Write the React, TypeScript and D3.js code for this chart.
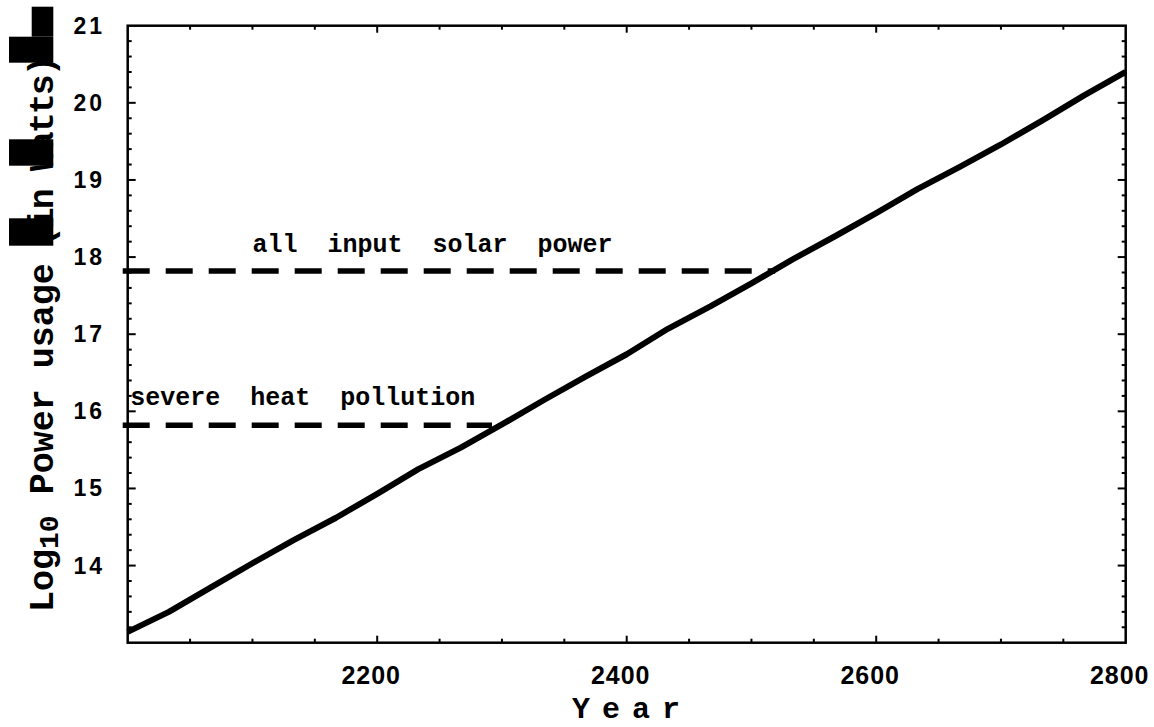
import React, { useEffect, useRef } from "react";
import * as d3 from "d3";

const years = [2000, 2033, 2067, 2100, 2133, 2167, 2200, 2233, 2267, 2300, 2333, 2367, 2400, 2433, 2467, 2500, 2533, 2567, 2600, 2633, 2667, 2700, 2733, 2767, 2800];
const logPower = [13.14, 13.4, 13.72, 14.03, 14.33, 14.62, 14.93, 15.25, 15.53, 15.83, 16.14, 16.45, 16.74, 17.07, 17.36, 17.66, 17.97, 18.27, 18.57, 18.88, 19.17, 19.46, 19.77, 20.1, 20.4];

const thresholdNames = ["all  input  solar  power", "severe  heat  pollution"];
const thresholdValues = [17.82, 15.82];
const thresholdEndYears = [2519, 2292];
const thresholdLabelYears = [2100, 2002];
const thresholdLabelValues = [18.07, 16.08];

const xTickLabels = [2200, 2400, 2600, 2800];
const yTickLabels = [14, 15, 16, 17, 18, 19, 20, 21];

const W = 1154;
const H = 727;
const M = { left: 127.7, right: 1125.7, top: 25.7, bottom: 642.7 };

export default function App() {
  const ref = useRef<SVGSVGElement>(null);
  useEffect(() => {
    const svg = d3.select(ref.current);
    svg.selectAll("*").remove();
    const x = d3.scaleLinear().domain([2000, 2800]).range([M.left, M.right]);
    const y = d3.scaleLinear().domain([13, 21]).range([M.bottom, M.top]);

    svg.append("rect").attr("width", W).attr("height", H).attr("fill", "#fff");

    const g = svg.append("g");
    // ticks
    const xMinor = d3.range(2050, 2800, 50);
    const yMinor = d3.range(13.2, 21, 0.2);
    const tick = g.append("g").attr("stroke", "#000").attr("stroke-width", 2);
    xMinor.forEach((v) => {
      const major = v % 200 === 0;
      const len = major ? 7 : 4;
      tick.append("line").attr("x1", x(v)).attr("x2", x(v)).attr("y1", M.bottom).attr("y2", M.bottom - len);
      tick.append("line").attr("x1", x(v)).attr("x2", x(v)).attr("y1", M.top).attr("y2", M.top + len);
    });
    yMinor.forEach((v) => {
      const major = Math.abs(v - Math.round(v)) < 1e-6;
      const len = major ? 8 : 4;
      tick.append("line").attr("x1", M.left).attr("x2", M.left + len).attr("y1", y(v)).attr("y2", y(v));
      tick.append("line").attr("x1", M.right).attr("x2", M.right - len).attr("y1", y(v)).attr("y2", y(v));
    });
    // frame
    g.append("rect")
      .attr("x", M.left).attr("y", M.top)
      .attr("width", M.right - M.left).attr("height", M.bottom - M.top)
      .attr("fill", "none").attr("stroke", "#000").attr("stroke-width", 2.5);

    // tick labels
    g.selectAll(".xl").data(xTickLabels).enter().append("text")
      .attr("x", (d) => x(d) - 6).attr("y", 684)
      .attr("text-anchor", "middle")
      .attr("font-family", "Liberation Sans, Arial, sans-serif")
      .attr("font-weight", 700).attr("font-size", 25)
      .attr("letter-spacing", 1)
      .text((d) => String(d));
    g.selectAll(".yl").data(yTickLabels).enter().append("text")
      .attr("x", 105).attr("y", (d) => y(d) + 8)
      .attr("text-anchor", "end")
      .attr("font-family", "Liberation Sans, Arial, sans-serif")
      .attr("font-weight", 700).attr("font-size", 23)
      .attr("letter-spacing", 3)
      .text((d) => String(d));

    // threshold dashed lines
    thresholdValues.forEach((v, i) => {
      g.append("line")
        .attr("x1", x(2000) - 5).attr("x2", x(thresholdEndYears[i]))
        .attr("y1", y(v)).attr("y2", y(v))
        .attr("stroke", "#000").attr("stroke-width", 5.5)
        .attr("stroke-dasharray", "27 16");
      g.append("text")
        .attr("x", x(thresholdLabelYears[i])).attr("y", y(thresholdLabelValues[i]))
        .attr("font-family", "Liberation Mono, Courier New, monospace")
        .attr("font-weight", 700).attr("font-size", 25)
        .style("white-space", "pre")
        .text(thresholdNames[i]);
    });

    // main line
    const line = d3.line<number>().x((_, i) => x(years[i])).y((d) => y(d));
    g.append("path").datum(logPower).attr("d", line)
      .attr("fill", "none").attr("stroke", "#000").attr("stroke-width", 6)
      .attr("stroke-linejoin", "round");

    // axis titles
    g.append("text")
      .attr("x", 632).attr("y", 718)
      .attr("text-anchor", "middle")
      .attr("font-family", "Liberation Mono, Courier New, monospace")
      .attr("font-weight", 700).attr("font-size", 30)
      .attr("letter-spacing", 12)
      .text("Year");

    const yt = g.append("text")
      .attr("transform", "translate(53,612) rotate(-90)")
      .attr("font-family", "Liberation Mono, Courier New, monospace")
      .attr("font-weight", 700).attr("font-size", 35)
      .style("white-space", "pre");
    yt.append("tspan").text("Log");
    yt.append("tspan").attr("font-size", 28).attr("dy", 5).text("10");
    yt.append("tspan").attr("dy", -5).text(" Power usage");
    yt.append("tspan").attr("dx", -3).attr("letter-spacing", -2).text(" (in Watts)");

    // rendering artifacts (black blocks)
    const blocks = [
      [31.7, 6.7, 21.6, 30], [9, 36.7, 44.3, 26], [9, 139.3, 44.3, 26.4], [9, 218.3, 44.3, 27.4],
    ];
    blocks.forEach((b) => g.append("rect").attr("x", b[0]).attr("y", b[1]).attr("width", b[2]).attr("height", b[3]).attr("fill", "#000"));
  }, []);
  return (
    <svg ref={ref} width={W} height={H} style={{ position: "absolute", left: 0, top: 0, display: "block" }} />
  );
}
